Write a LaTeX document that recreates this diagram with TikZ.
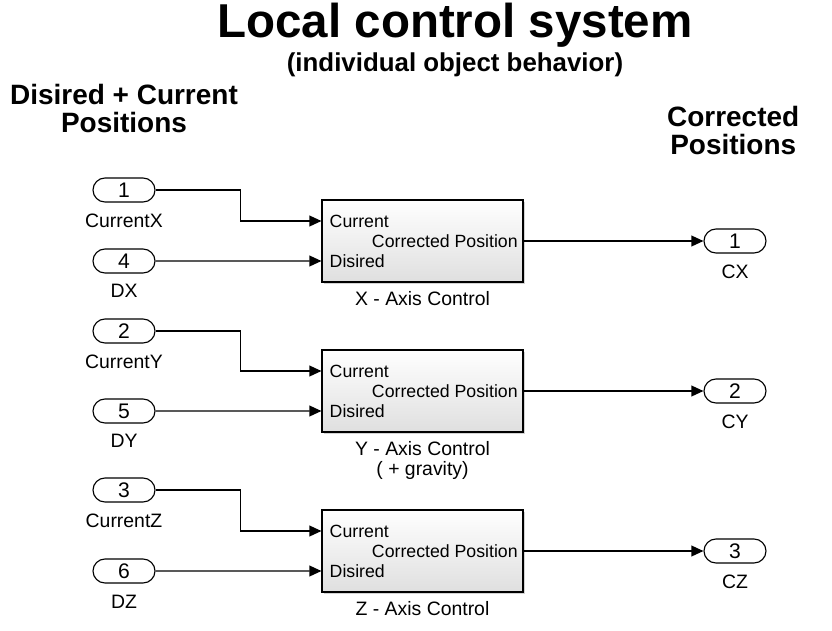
\documentclass[tikz,border=0pt]{standalone}
\usepackage{fontspec}
\setmainfont{Liberation Sans}
\usetikzlibrary{positioning,arrows.meta,calc,shapes.misc,shadows}

\begin{document}
\begin{tikzpicture}[
        port/.style={draw, rounded rectangle, line width=0.8pt, fill=white, minimum width=1.55cm, minimum height=0.6cm, inner sep=0pt, font=\fontsize{15}{16}\selectfont},
        plbl/.style={font=\fontsize{13.8}{14.2}\selectfont, inner sep=0pt, align=center},
        sub/.style={draw, line width=0.8pt, minimum width=5.025cm, minimum height=2.05cm, top color=white, bottom color=gray!25,
            drop shadow={shadow xshift=0.06cm, shadow yshift=-0.06cm, opacity=0.35}},
        pin/.style={font=\fontsize{12.6}{14}\selectfont, inner sep=0pt},
        hdr/.style={font=\bfseries\fontsize{19.9}{19.9}\selectfont, align=center},
        arr/.style={-{Triangle[length=0.3cm, width=0.27cm]}, line width=0.8pt}
    ]
        \useasboundingbox (0,0) rectangle (20.8,-15.75);

        % --- TITULOS ---
        \node[font=\bfseries\fontsize{33.8}{36}\selectfont] (titulo) at (11.375,-0.62) {Local control system};
        \node[font=\bfseries\fontsize{18.4}{20}\selectfont] (subtitulo) at (11.375,-1.62) {(individual object behavior)};
        \node[hdr] (entradas) at (3.1,-2.72) {Disired + Current\\Positions};
        \node[hdr] (salidas) at (18.33,-3.27) {Corrected\\Positions};

        % --- BLOQUES ---
        \node[sub] (ctrlX) at (10.5625,-6.025) {};
        \node[sub] (ctrlY) at (10.5625,-9.775) {};
        \node[sub] (ctrlZ) at (10.5625,-13.775) {};

        \node[plbl, below=0.22cm of ctrlX] (lblX) {X - Axis Control};
        \node[plbl, below=0.22cm of ctrlY] (lblY) {Y - Axis Control\\( + gravity)};
        \node[plbl, below=0.22cm of ctrlZ] (lblZ) {Z - Axis Control};

        % Puertos internos
        \coordinate (curX) at ($(ctrlX.west)+(0,0.5)$);
        \coordinate (desX) at ($(ctrlX.west)+(0,-0.5)$);
        \coordinate (curY) at ($(ctrlY.west)+(0,0.5)$);
        \coordinate (desY) at ($(ctrlY.west)+(0,-0.5)$);
        \coordinate (curZ) at ($(ctrlZ.west)+(0,0.5)$);
        \coordinate (desZ) at ($(ctrlZ.west)+(0,-0.5)$);

        \node[pin, anchor=west] at ($(curX)+(0.2,0)$) {Current};
        \node[pin, anchor=east] at ($(ctrlX.east)+(-0.14,0)$) {Corrected Position};
        \node[pin, anchor=west] at ($(desX)+(0.2,0)$) {Disired};
        \node[pin, anchor=west] at ($(curY)+(0.2,0)$) {Current};
        \node[pin, anchor=east] at ($(ctrlY.east)+(-0.14,0)$) {Corrected Position};
        \node[pin, anchor=west] at ($(desY)+(0.2,0)$) {Disired};
        \node[pin, anchor=west] at ($(curZ)+(0.2,0)$) {Current};
        \node[pin, anchor=east] at ($(ctrlZ.east)+(-0.14,0)$) {Corrected Position};
        \node[pin, anchor=west] at ($(desZ)+(0.2,0)$) {Disired};

        % --- ENTRADAS ---
        \node[port] (inCX) at (3.1,-4.75) {1};
        \node[port] (inDX) at (3.1,-6.525) {4};
        \node[port] (inCY) at (3.1,-8.275) {2};
        \node[port] (inDY) at (3.1,-10.275) {5};
        \node[port] (inCZ) at (3.1,-12.25) {3};
        \node[port] (inDZ) at (3.1,-14.275) {6};

        \node[plbl, below=0.27cm of inCX] {CurrentX};
        \node[plbl, below=0.27cm of inDX] {DX};
        \node[plbl, below=0.27cm of inCY] {CurrentY};
        \node[plbl, below=0.27cm of inDY] {DY};
        \node[plbl, below=0.27cm of inCZ] {CurrentZ};
        \node[plbl, below=0.27cm of inDZ] {DZ};

        % --- SALIDAS ---
        \node[port] (outX) at (18.375,-6.025) {1};
        \node[port] (outY) at (18.375,-9.775) {2};
        \node[port] (outZ) at (18.375,-13.775) {3};

        \node[plbl, below=0.27cm of outX] {CX};
        \node[plbl, below=0.27cm of outY] {CY};
        \node[plbl, below=0.27cm of outZ] {CZ};

        % Conexiones
        \draw[arr] (inCX.east) -- ++(2.12,0) |- (curX);
        \draw[arr] (inDX.east) -- (desX);
        \draw[arr] (inCY.east) -- ++(2.12,0) |- (curY);
        \draw[arr] (inDY.east) -- (desY);
        \draw[arr] (inCZ.east) -- ++(2.12,0) |- (curZ);
        \draw[arr] (inDZ.east) -- (desZ);

        \draw[arr] (ctrlX.east) -- (outX.west);
        \draw[arr] (ctrlY.east) -- (outY.west);
        \draw[arr] (ctrlZ.east) -- (outZ.west);
    \end{tikzpicture}
\end{document}
